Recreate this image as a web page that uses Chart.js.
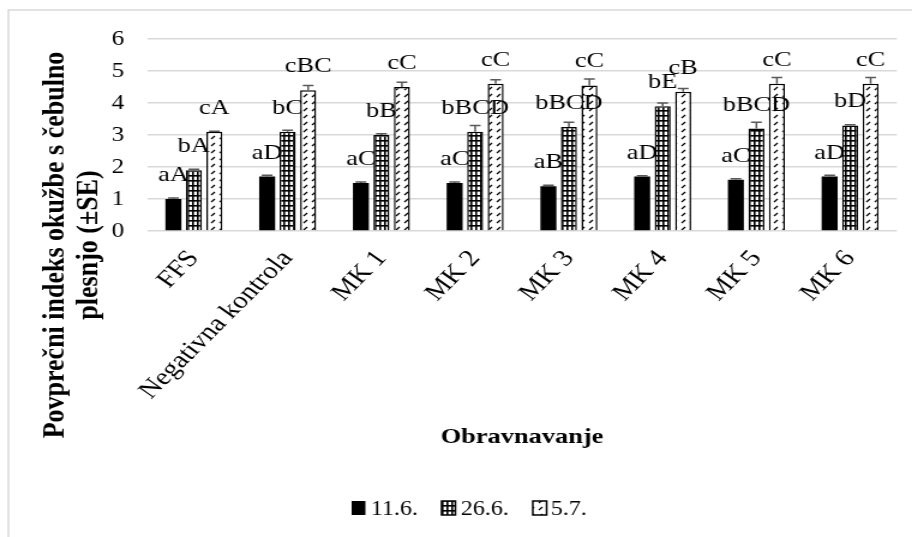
<!DOCTYPE html>
<html>
<head>
<meta charset="utf-8">
<script src="https://cdn.jsdelivr.net/npm/chart.js@4.4.1/dist/chart.umd.min.js"></script>
<style>
  html, body { margin: 0; padding: 0; background: #fff; }
</style>
</head>
<body>
<!-- the source picture is stretched sideways, so the canvas is too -->
<canvas id="chart" width="760" height="537" style="display:block;width:912px;height:537px"></canvas>
<script>
const categories = ['FFS', 'Negativna kontrola', 'MK 1', 'MK 2', 'MK 3', 'MK 4', 'MK 5', 'MK 6'];
const seriesNames = ['11.6.', '26.6.', '5.7.'];

const values116 = [1.0, 1.7, 1.5, 1.5, 1.4, 1.7, 1.6, 1.7];
const values266 = [1.9, 3.1, 3.0, 3.1, 3.25, 3.9, 3.2, 3.3];
const values57 = [3.1, 4.4, 4.5, 4.6, 4.55, 4.35, 4.6, 4.6];

const errors116 = [0.03, 0.04, 0.03, 0.03, 0.03, 0.03, 0.03, 0.04];
const errors266 = [0.03, 0.05, 0.04, 0.2, 0.15, 0.1, 0.2, 0.02];
const errors57 = [0.02, 0.15, 0.15, 0.13, 0.2, 0.1, 0.2, 0.2];

const labels116 = ['aA', 'aD', 'aC', 'aC', 'aB', 'aD', 'aC', 'aD'];
const labels266 = ['bA', 'bC', 'bB', 'bBCD', 'bBCD', 'bE', 'bBCD', 'bD'];
const labels57 = ['cA', 'cBC', 'cC', 'cC', 'cC', 'cB', 'cC', 'cC'];

const yTicks = [0, 1, 2, 3, 4, 5, 6];

const yTitle = ['Povprečni indeks okužbe s čebulno', 'plesnjo (±SE)'];
const xTitle = 'Obravnavanje';

const serif = "'Liberation Serif', 'Times New Roman', serif";

function gridPattern(ctx) {
    const c = document.createElement('canvas');
    c.width = 4; c.height = 5;
    const g = c.getContext('2d');
    g.fillStyle = '#fff';
    g.fillRect(0, 0, 4, 5);
    g.fillStyle = '#000';
    g.fillRect(0, 0, 4, 1.6);
    g.fillRect(0, 0, 1.6, 5);
    return ctx.createPattern(c, 'repeat');
}

function dashPattern(ctx) {
    const c = document.createElement('canvas');
    c.width = 7; c.height = 7;
    const g = c.getContext('2d');
    g.fillStyle = '#fff';
    g.fillRect(0, 0, 7, 7);
    g.strokeStyle = '#000';
    g.lineWidth = 1.3;
    g.beginPath();
    g.moveTo(1, 6);
    g.lineTo(4, 3);
    g.stroke();
    return ctx.createPattern(c, 'repeat');
}

const canvas = document.getElementById('chart');
const ctx = canvas.getContext('2d');
const gridFill = gridPattern(ctx);
const dashFill = dashPattern(ctx);

const series = [
    { values: values116, errors: errors116, labels: labels116, fill: '#000' },
    { values: values266, errors: errors266, labels: labels266, fill: gridFill },
    { values: values57, errors: errors57, labels: labels57, fill: dashFill }
];

const decor = {
    id: 'decor',
    beforeDraw(chart) {
        const c = chart.ctx;
        c.save();
        c.strokeStyle = '#d9d9d9';
        c.lineWidth = 1.5;
        c.beginPath();
        c.moveTo(7, 537);
        c.lineTo(7, 10);
        c.lineTo(760, 10);
        c.stroke();
        c.restore();
    },
    afterDatasetsDraw(chart) {
        const c = chart.ctx;
        const y = chart.scales.y;
        c.save();

        // error bars (+SE only)
        c.strokeStyle = '#595959';
        c.lineWidth = 1.5;
        series.forEach((s, di) => {
            chart.getDatasetMeta(di).data.forEach((bar, i) => {
                const top = y.getPixelForValue(s.values[i] + s.errors[i]);
                const base = y.getPixelForValue(s.values[i]);
                c.beginPath();
                c.moveTo(bar.x, base);
                c.lineTo(bar.x, top);
                c.moveTo(bar.x - 4.5, top);
                c.lineTo(bar.x + 4.5, top);
                c.stroke();
            });
        });

        // letter labels
        c.fillStyle = '#000';
        c.font = '22px ' + serif;
        c.textAlign = 'center';
        c.textBaseline = 'alphabetic';
        series.forEach((s, di) => {
            chart.getDatasetMeta(di).data.forEach((bar, i) => {
                c.fillText(s.labels[i], bar.x, y.getPixelForValue(s.values[i]) - 18);
            });
        });

        // axis titles
        c.font = 'bold 22px ' + serif;
        c.fillText(xTitle, 435, 443);

        c.font = 'bold 26px ' + serif;
        c.textBaseline = 'middle';
        c.save();
        c.translate(46, 245);
        c.rotate(-Math.PI / 2);
        c.fillText(yTitle[0], 0, 0);
        c.restore();
        c.save();
        c.translate(74, 245);
        c.rotate(-Math.PI / 2);
        c.fillText(yTitle[1], 0, 0);
        c.restore();

        // legend
        const items = [
            { box: 293, text: 309 },
            { box: 368, text: 384 },
            { box: 444, text: 459 }
        ];
        c.font = '20px ' + serif;
        c.textAlign = 'left';
        c.textBaseline = 'alphabetic';
        items.forEach((it, i) => {
            c.fillStyle = series[i].fill;
            c.fillRect(it.box, 501, 11.5, 14);
            if (i > 0) {
                c.strokeStyle = '#000';
                c.lineWidth = 1.5;
                c.strokeRect(it.box, 501, 11.5, 14);
            }
            c.fillStyle = '#000';
            c.fillText(seriesNames[i], it.text, 515);
        });

        c.restore();
    }
};

new Chart(canvas, {
    type: 'bar',
    data: {
        labels: categories,
        datasets: series.map((s, i) => ({
            label: seriesNames[i],
            data: s.values,
            backgroundColor: s.fill,
            borderColor: '#000',
            borderWidth: i === 0 ? 0 : 1.5,
            categoryPercentage: 0.656,
            barPercentage: 0.78
        }))
    },
    options: {
        responsive: false,
        devicePixelRatio: 1,
        animation: false,
        layout: { padding: { left: 0, right: 12.5, top: 39, bottom: 0 } },
        plugins: {
            legend: { display: false },
            tooltip: { enabled: false }
        },
        scales: {
            x: {
                grid: { display: false },
                border: { display: false },
                ticks: {
                    color: '#000',
                    font: { family: serif, size: 24 },
                    minRotation: 50,
                    maxRotation: 50,
                    autoSkip: false,
                    padding: 6
                },
                afterFit(scale) { scale.height = 306; }
            },
            y: {
                min: 0,
                max: 6,
                afterBuildTicks(scale) { scale.ticks = yTicks.map(v => ({ value: v })); },
                grid: { color: '#d9d9d9', lineWidth: 1.5, drawTicks: false },
                border: { display: false },
                ticks: {
                    color: '#000',
                    font: { family: serif, size: 21 },
                    padding: 19
                },
                afterFit(scale) { scale.width = 122.5; }
            }
        }
    },
    plugins: [decor]
});
</script>
</body>
</html>
